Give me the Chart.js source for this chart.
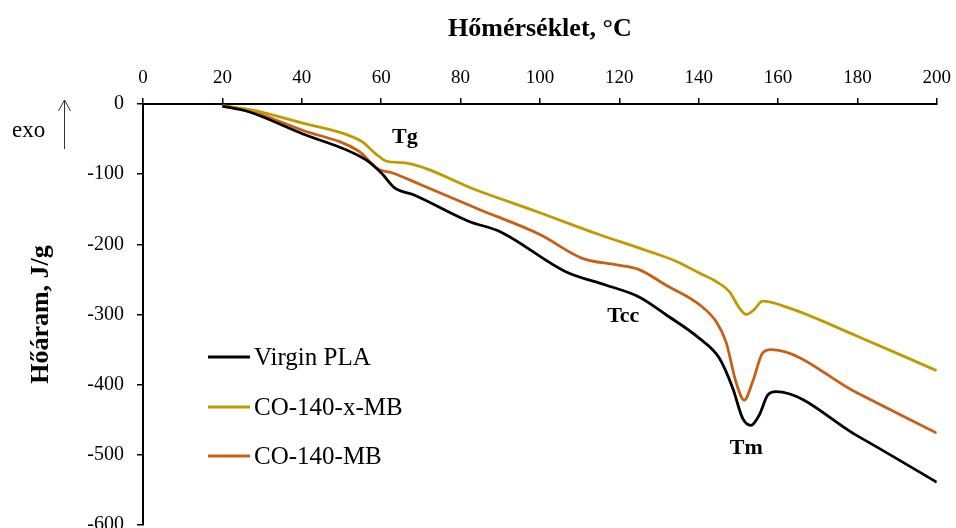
<!DOCTYPE html>
<html>
<head>
<meta charset="utf-8">
<script src="https://cdn.jsdelivr.net/npm/chart.js@4"></script>
<style>
  html, body { margin:0; padding:0; background:#fff; overflow:hidden; }
  #wrap { width:960px; height:550px; position:relative; }
</style>
</head>
<body>
<div id="wrap"><canvas id="c"></canvas></div>
<script>
// ---- data ----
const seriesNames = ['Virgin PLA', 'CO-140-x-MB', 'CO-140-MB'];
const seriesColors = ['#000000', '#C09A00', '#C95F17'];

const virginT = [20, 26, 40, 56, 60, 63.5, 68, 82, 90, 106.5, 116.6, 125, 131.7, 140.2, 145.2, 148.6, 151.1, 153.2, 155.3, 157.4, 159.5, 180, 200];
const virginV = [-3, -10, -42, -79, -98, -120, -129, -167, -182, -239, -258, -275, -300, -334, -362, -405, -448, -458, -443, -415, -410, -473, -539];

const xmbT = [20, 27, 40, 51, 55, 59.3, 61.4, 66, 84.6, 100, 114.9, 127.5, 134.3, 140.2, 144.4, 147.7, 150.3, 152, 154, 156.1, 162.9, 180, 200];
const xmbV = [-3, -8, -27, -43, -53, -74, -81.6, -84, -124, -155, -186, -210, -224, -241, -253, -267, -291, -300, -293, -281, -291, -331, -380];

const mbT = [20, 27, 40, 54.3, 59.3, 62.7, 70, 84.6, 100, 110.7, 119, 125, 131.7, 140.2, 144.4, 146.9, 149.4, 151.5, 153.6, 156.1, 158.2, 180, 200];
const mbV = [-2, -10, -37, -67, -93, -98, -115, -150, -186, -220, -229, -236, -258, -286, -310, -339, -396, -422, -396, -355, -350, -412, -469];

const xTicks = [0, 20, 40, 60, 80, 100, 120, 140, 160, 180, 200];
const yTicks = [0, -100, -200, -300, -400, -500, -600];

const annotations = [
  { text: 'Tg',  x: 66,    y: -48 },
  { text: 'Tcc', x: 121,   y: -303 },
  { text: 'Tm',  x: 152,   y: -491 }
];

const xTitle = 'Hőmérséklet, °C';
const yTitle = 'Hőáram, J/g';

// ---- build ----
function pts(t, v) { return t.map((x, i) => ({ x: x, y: v[i] })); }
const allT = [virginT, xmbT, mbT];
const allV = [virginV, xmbV, mbV];

const serif = "'Liberation Serif', 'Times New Roman', serif";

const overlay = {
  id: 'overlay',
  afterDraw(chart) {
    const ctx = chart.ctx;
    const xs = chart.scales.x, ys = chart.scales.y;
    ctx.save();
    // annotations
    ctx.fillStyle = '#000';
    ctx.font = 'bold 22px ' + serif;
    ctx.textAlign = 'center';
    ctx.textBaseline = 'middle';
    annotations.forEach(a => {
      ctx.fillText(a.text, xs.getPixelForValue(a.x), ys.getPixelForValue(a.y));
    });
    // legend
    ctx.font = '25px ' + serif;
    ctx.textAlign = 'left';
    const ly = [357, 407, 456];
    chart.data.datasets.forEach((ds, i) => {
      ctx.strokeStyle = ds.borderColor;
      ctx.lineWidth = 3;
      ctx.beginPath();
      ctx.moveTo(208, ly[i]);
      ctx.lineTo(250, ly[i]);
      ctx.stroke();
      ctx.fillStyle = '#000';
      ctx.fillText(ds.label, 254, ly[i] + 1);
    });
    // exo arrow
    ctx.font = '23px ' + serif;
    ctx.fillStyle = '#000';
    ctx.textAlign = 'left';
    ctx.fillText('exo', 12, 131);
    ctx.strokeStyle = '#333';
    ctx.lineWidth = 1;
    ctx.beginPath();
    ctx.moveTo(64.5, 149); ctx.lineTo(64.5, 100);
    ctx.moveTo(58.5, 111); ctx.lineTo(64.5, 100); ctx.lineTo(70.5, 111);
    ctx.stroke();
    ctx.restore();
  }
};

new Chart(document.getElementById('c'), {
  type: 'line',
  data: {
    datasets: seriesNames.map((n, i) => ({
      label: n,
      data: pts(allT[i], allV[i]),
      borderColor: seriesColors[i],
      backgroundColor: seriesColors[i],
      borderWidth: 2.8,
      pointRadius: 0,
      tension: 0.4,
      cubicInterpolationMode: 'monotone',
      fill: false
    }))
  },
  options: {
    responsive: true,
    maintainAspectRatio: false,
    animation: false,
    layout: { padding: { left: 0, right: 10, top: 1, bottom: 0 } },
    plugins: { legend: { display: false }, tooltip: { enabled: false } },
    scales: {
      x: {
        type: 'linear',
        position: 'top',
        min: 0, max: 200,
        afterBuildTicks(s) { s.ticks = xTicks.map(v => ({ value: v })); },
        afterFit(s) { s.height = 103; },
        ticks: { color: '#000', font: { family: serif, size: 19 }, padding: 9, maxRotation: 0 },
        grid: { drawOnChartArea: false, drawTicks: true, tickLength: 6, color: '#000', lineWidth: 1.5 },
        border: { color: '#000', width: 2 },
        title: { display: true, text: xTitle, color: '#000', font: { family: serif, size: 26, weight: 'bold' }, padding: { top: 13, bottom: 0 } }
      },
      y: {
        type: 'linear',
        min: -600, max: 0,
        afterBuildTicks(s) { s.ticks = yTicks.map(v => ({ value: v })); },
        afterFit(s) { s.width = 143; },
        ticks: { color: '#000', font: { family: serif, size: 20 }, padding: 13 },
        grid: { drawOnChartArea: false, drawTicks: true, tickLength: 6, color: '#000', lineWidth: 1.5 },
        border: { color: '#000', width: 2 },
        title: { display: true, text: yTitle, color: '#000', font: { family: serif, size: 26, weight: 'bold' }, padding: { top: 26, bottom: 0 } }
      }
    }
  },
  plugins: [overlay]
});
</script>
</body>
</html>
